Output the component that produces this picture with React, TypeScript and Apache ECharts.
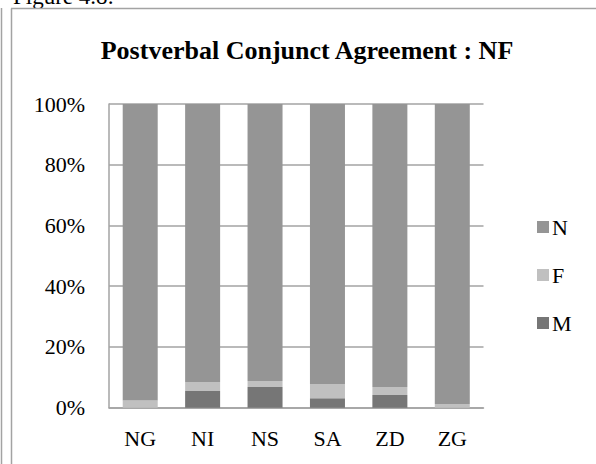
import React, { useEffect, useRef } from "react";
import * as echarts from "echarts";

const categories = ["NG", "NI", "NS", "SA", "ZD", "ZG"];
const valuesM = [0, 5.5, 6.8, 3.1, 4.2, 0];
const valuesF = [2.4, 3.0, 2.0, 4.7, 2.6, 1.2];
const valuesN = [97.6, 91.5, 91.2, 92.2, 93.2, 98.8];
const yTicks = [0, 20, 40, 60, 80, 100];

const FONT = "Liberation Serif";
const LINE = "#a3a3a3";

export default function App() {
  const ref = useRef<HTMLDivElement>(null);
  useEffect(() => {
    document.body.style.margin = "0";
    const chart = echarts.init(ref.current!, null, { renderer: "svg" });
    chart.setOption({
      animation: false,
      backgroundColor: "#ffffff",
      textStyle: { fontFamily: FONT, color: "#000" },
      grid: { left: 109, right: 112.5, top: 104, bottom: 56.3, containLabel: false },
      xAxis: {
        type: "category",
        data: categories,
        axisLine: { show: true, lineStyle: { color: LINE, width: 1.5 } },
        axisTick: { show: false },
        axisLabel: { fontSize: 22, color: "#000", fontFamily: FONT, margin: 20 },
      },
      yAxis: {
        type: "value",
        min: 0,
        max: 100,
        interval: 20,
        axisLine: { show: true, lineStyle: { color: LINE, width: 1.5 } },
        axisTick: { show: false },
        splitLine: { show: true, lineStyle: { color: LINE, width: 1.5 } },
        axisLabel: {
          fontSize: 22,
          color: "#000",
          fontFamily: FONT,
          margin: 24,
          formatter: (v: number) => (yTicks.includes(v) ? v + "%" : ""),
        },
      },
      legend: {
        orient: "vertical",
        left: 532,
        top: 211,
        data: ["N", "F", "M"],
        icon: "rect",
        itemWidth: 12,
        itemHeight: 12,
        itemGap: 26,
        textStyle: { fontSize: 22, fontFamily: FONT, color: "#000", lineHeight: 22, padding: [0, 0, 0, -2] },
      },
      series: [
        {
          name: "M",
          type: "bar",
          stack: "all",
          data: valuesM,
          barWidth: 35,
          itemStyle: { color: "#767676" },
        },
        {
          name: "F",
          type: "bar",
          stack: "all",
          data: valuesF,
          barWidth: 35,
          itemStyle: { color: "#c0c0c0" },
        },
        {
          name: "N",
          type: "bar",
          stack: "all",
          data: valuesN,
          barWidth: 35,
          itemStyle: { color: "#959595" },
        },
      ],
      graphic: [
        {
          type: "text",
          x: 13,
          y: -15,
          style: {
            text: "Figure 4.8:",
            fontSize: 23,
            fontFamily: FONT,
            fill: "#000",
            textAlign: "left",
            textVerticalAlign: "top",
          },
        },
        {
          type: "text",
          x: 307,
          y: 37,
          style: {
            text: "Postverbal Conjunct Agreement : NF",
            fontSize: 26,
            fontWeight: "bold",
            fontFamily: FONT,
            fill: "#000",
            textAlign: "center",
          },
        },
        { type: "line", shape: { x1: 1.5, y1: 8, x2: 1.5, y2: 464 }, style: { stroke: LINE, lineWidth: 1.5 } },
        { type: "line", shape: { x1: 11.5, y1: 8.5, x2: 11.5, y2: 464 }, style: { stroke: LINE, lineWidth: 1.5 } },
        { type: "line", shape: { x1: 11, y1: 8.5, x2: 596, y2: 8.5 }, style: { stroke: LINE, lineWidth: 1.5 } },
      ],
    });
    return () => chart.dispose();
  }, []);
  return <div ref={ref} style={{ position: "fixed", left: 0, top: 0, width: 596, height: 464 }} />;
}
